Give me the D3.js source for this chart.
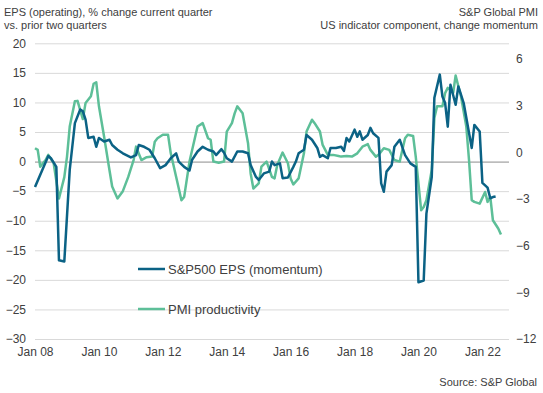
<!DOCTYPE html>
<html lang="en">
<head>
<meta charset="UTF-8">
<title>S&amp;P500 EPS vs PMI productivity</title>
<script src="https://d3js.org/d3.v7.min.js"></script>
<style>
    body { margin: 0; background: #fff; }
    svg { font-family: "Liberation Sans", Arial, sans-serif; }
    .axis text { fill: #404040; font-size: 12px; }
    .axis .domain { display: none; }
    .grid line { stroke: #d9d9d9; stroke-width: 1px; }
    .note { fill: #404040; font-size: 11px; }
</style>
</head>
<body>
<div id="chart"></div>
<script>
    // EPS momentum (left axis, %)
    const epsDates = ["2008-01","2008-06","2008-07","2008-09","2008-10","2008-12","2009-02","2009-04","2009-06","2009-07",
        "2009-08","2009-09","2009-11","2009-12","2010-01","2010-03","2010-05","2010-06","2010-08","2010-10",
        "2011-01","2011-03","2011-04","2011-06","2011-08","2011-10","2011-12","2012-02","2012-04","2012-06",
        "2012-07","2012-09","2012-11","2012-12","2013-02","2013-04","2013-06","2013-08","2013-09","2013-11",
        "2013-12","2014-01","2014-03","2014-05","2014-07","2014-09","2014-10","2014-12","2015-01","2015-03",
        "2015-05","2015-06","2015-07","2015-09","2015-10","2015-12","2016-02","2016-03","2016-04","2016-06",
        "2016-07","2016-09","2016-11","2016-12","2017-01","2017-03","2017-04","2017-06","2017-08","2017-09",
        "2017-10","2017-11","2018-01","2018-02","2018-03","2018-04","2018-06","2018-07","2018-08","2018-10",
        "2018-11","2018-12","2019-01","2019-03","2019-04","2019-06","2019-08","2019-10","2019-12","2020-01",
        "2020-03","2020-04","2020-06","2020-07","2020-09","2020-10","2020-11","2020-12","2021-01","2021-03",
        "2021-04","2021-06","2021-09","2021-10","2021-12","2022-01","2022-03","2022-04","2022-05","2022-06"];
    const epsValues = [-4.3,0.95,0.56,-0.9,-16.7,-16.9,-1.4,6.5,8.8,8.5,
        7.1,4.0,4.2,2.5,4.0,3.4,3.7,2.8,2.0,1.4,
        0.7,1.1,2.8,2.5,2.0,0.56,-1.1,-0.6,0.56,1.4,
        0,-0.9,-1.5,0.3,1.7,2.5,2.0,1.7,1.1,2.1,
        1.5,0.56,0,1.7,1.7,1.4,-0.6,-2.6,-3.1,-2.0,
        -1.7,0,-0.6,-0.3,-2.8,-2.7,-0.9,0,1.4,2.0,
        4.5,3.7,2.3,0.8,1.1,0.56,2.3,2.3,2.5,1.8,
        4.0,3.4,5.4,4.2,5.1,3.7,4.5,5.7,4.8,4.0,
        -3.7,-5.1,-1.7,-0.6,2.5,3.7,1.1,-0.3,-0.9,-20.4,
        -20.1,-8.8,-2.6,10.8,14.7,11.0,9.9,5.9,13.0,9.6,
        12.7,9.9,2.3,6.2,5.1,-3.6,-4.4,-6.2,-6.0,-5.9];

    // PMI productivity change momentum (right axis)
    const pmiDates = ["2008-01","2008-02","2008-03","2008-05","2008-06","2008-08","2008-10","2008-12","2009-01","2009-02",
        "2009-04","2009-05","2009-07","2009-08","2009-10","2009-11","2009-12","2010-01","2010-03","2010-05",
        "2010-06","2010-08","2010-10","2010-12","2011-02","2011-03","2011-05","2011-07","2011-09","2011-10",
        "2011-11","2012-01","2012-03","2012-04","2012-06","2012-08","2012-09","2012-11","2013-01","2013-02",
        "2013-04","2013-06","2013-07","2013-08","2013-10","2013-12","2014-01","2014-03","2014-04","2014-05",
        "2014-07","2014-09","2014-10","2014-11","2015-01","2015-02","2015-04","2015-06","2015-07","2015-08",
        "2015-10","2015-12","2016-01","2016-02","2016-04","2016-06","2016-07","2016-09","2016-10","2016-12",
        "2017-01","2017-03","2017-05","2017-07","2017-08","2017-10","2017-12","2018-02","2018-04","2018-06",
        "2018-07","2018-09","2018-10","2018-12","2019-02","2019-04","2019-06","2019-07","2019-08","2019-09",
        "2019-11","2019-12","2020-02","2020-03","2020-04","2020-06","2020-07","2020-08","2020-10","2020-11",
        "2020-12","2021-02","2021-03","2021-04","2021-05","2021-07","2021-08","2021-09","2021-10","2021-12",
        "2022-02","2022-03","2022-04","2022-05","2022-07","2022-08"];
    const pmiValues = [0.26,0.15,-0.93,-0.5,-0.17,-0.7,-2.97,-1.6,-0.28,1.65,
        3.27,3.3,2.13,3.17,3.6,4.4,4.5,2.95,1.0,-1.14,
        -2.2,-2.97,-2.5,-1.6,-0.5,0.36,-0.5,-0.32,-0.28,0.68,
        0.9,1.12,1.12,-0.07,-1.58,-3.08,-2.87,-0.6,0.9,1.65,
        1.87,0.9,0.8,-0.6,-0.67,-0.6,1.33,1.87,2.5,2.95,
        2.5,0.58,-1.36,-2.33,-2.0,-0.93,-0.6,-1.58,-1.68,-0.82,
        -0.02,-0.71,-1.68,-2.07,-1.68,-0.07,1.33,2.09,1.87,1.33,
        0.47,-0.17,-0.17,-0.24,-0.28,-0.24,-0.28,-0.07,0.36,0.52,
        0.15,-0.28,-0.17,0.26,0.15,-0.5,-0.6,0.15,0.9,1.12,
        1.05,-0.28,-3.73,-3.52,-3.08,-1.14,2.2,2.95,2.95,3.81,
        4.14,3.81,4.93,4.24,3.6,1.65,-0.5,-3.08,-3.19,-3.3,
        -2.55,-3.19,-2.87,-4.37,-4.9,-5.28];

    const leftTicks = [-30, -25, -20, -15, -10, -5, 0, 5, 10, 15, 20];
    const rightTicks = [-12, -9, -6, -3, 0, 3, 6];

    const width = 543, height = 393;
    const plot = { left: 35, right: 509, top: 43.3, bottom: 339 };
    const colEps = "#0b6285", colPmi = "#5dbf98";

    const parse = d3.timeParse("%Y-%m");
    const eps = epsDates.map((d, i) => ({ date: parse(d), value: epsValues[i] }));
    const pmi = pmiDates.map((d, i) => ({ date: parse(d), value: pmiValues[i] }));

    const svg = d3.select("#chart").append("svg")
        .attr("width", width)
        .attr("height", height);

    const x = d3.scaleTime()
        .domain([new Date(2008, 0, 1), new Date(2022, 10, 1)])
        .range([plot.left, plot.right]);
    const yL = d3.scaleLinear().domain([-30, 20]).range([plot.bottom, plot.top]);
    const yR = d3.scaleLinear().domain([-12, 7]).range([plot.bottom, plot.top]);

    // left axis + gridlines
    const gl = svg.append("g")
        .attr("class", "axis grid")
        .attr("transform", `translate(${plot.left},0)`)
        .call(d3.axisLeft(yL).tickValues(leftTicks)
            .tickSize(-(plot.right - plot.left)).tickPadding(9));
    gl.selectAll(".tick line")
        .filter(d => d === 0)
        .style("stroke", "#8c8c8c");

    // right axis
    svg.append("g")
        .attr("class", "axis")
        .attr("transform", `translate(${plot.right},0)`)
        .call(d3.axisRight(yR).tickValues(rightTicks).tickSize(0).tickPadding(7));

    // x axis
    svg.append("g")
        .attr("class", "axis")
        .attr("transform", `translate(0,${plot.bottom})`)
        .call(d3.axisBottom(x).ticks(d3.timeYear.every(2))
            .tickFormat(d3.timeFormat("%b %y")).tickSize(0).tickPadding(8));

    // series
    svg.append("path")
        .datum(pmi)
        .attr("fill", "none")
        .attr("stroke", colPmi)
        .attr("stroke-width", 2.5)
        .attr("stroke-linejoin", "round")
        .attr("d", d3.line().x(d => x(d.date)).y(d => yR(d.value)));

    svg.append("path")
        .datum(eps)
        .attr("fill", "none")
        .attr("stroke", colEps)
        .attr("stroke-width", 2.5)
        .attr("stroke-linejoin", "round")
        .attr("d", d3.line().x(d => x(d.date)).y(d => yL(d.value)));

    // legend
    const legend = [
        { label: "S&P500 EPS (momentum)", color: colEps, y: 269 },
        { label: "PMI productivity", color: colPmi, y: 309 }
    ];
    const lg = svg.append("g").selectAll("g").data(legend).join("g");
    lg.append("line")
        .attr("x1", 138).attr("x2", 165)
        .attr("y1", d => d.y).attr("y2", d => d.y)
        .attr("stroke", d => d.color)
        .attr("stroke-width", 2.5);
    lg.append("text")
        .attr("x", 168).attr("y", d => d.y + 4.5)
        .attr("fill", "#404040")
        .style("font-size", "13px")
        .text(d => d.label);

    // titles and source
    svg.append("text").attr("class", "note").attr("x", 4).attr("y", 16)
        .text("EPS (operating), % change current quarter");
    svg.append("text").attr("class", "note").attr("x", 4).attr("y", 29)
        .text("vs. prior two quarters");
    svg.append("text").attr("class", "note").attr("x", 538).attr("y", 16)
        .attr("text-anchor", "end").text("S&P Global PMI");
    svg.append("text").attr("class", "note").attr("x", 538).attr("y", 29)
        .attr("text-anchor", "end").text("US indicator component, change momentum");
    svg.append("text").attr("class", "note").attr("x", 537).attr("y", 386)
        .attr("text-anchor", "end").text("Source: S&P Global");
</script>
</body>
</html>
